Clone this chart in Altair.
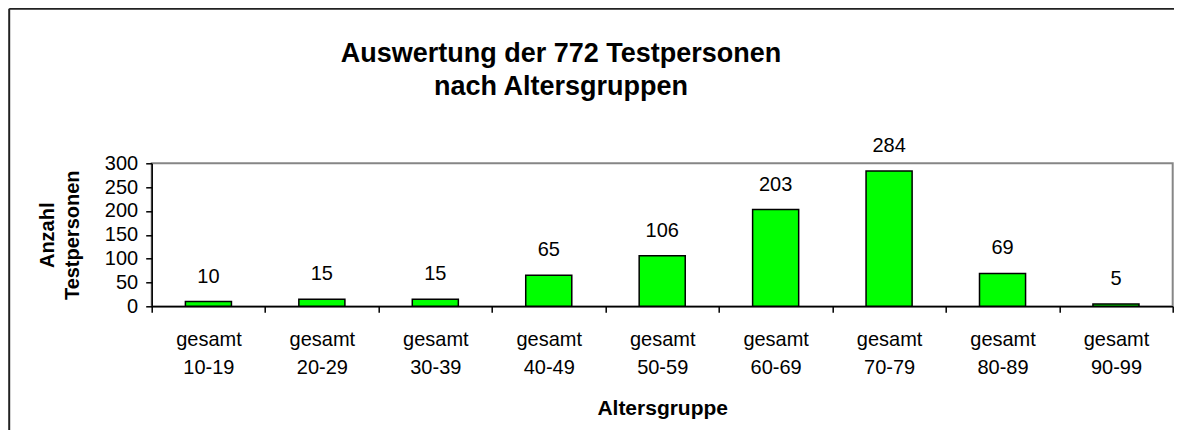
import altair as alt
import pandas as pd

groups = ["gesamt 10-19", "gesamt 20-29", "gesamt 30-39", "gesamt 40-49", "gesamt 50-59",
          "gesamt 60-69", "gesamt 70-79", "gesamt 80-89", "gesamt 90-99"]
counts = [10, 15, 15, 65, 106, 203, 284, 69, 5]
y_ticks = [0, 50, 100, 150, 200, 250, 300]
title_lines = ["Auswertung der 772 Testpersonen", "nach Altersgruppen"]

df = pd.DataFrame({"gruppe": groups, "anzahl": counts})

FONT = "Liberation Sans, Arial, sans-serif"
W, H = 1021, 143
PAD = {"left": 143.7, "top": 155.3, "right": 1.3, "bottom": 124}

x_enc = alt.X("gruppe:N", sort=groups,
              scale=alt.Scale(paddingInner=0, paddingOuter=0),
              axis=alt.Axis(title="Altersgruppe", labelAngle=0,
                            labelExpr="split(datum.label, ' ')",
                            labelLineHeight=28, labelFontSize=20, labelColor="#000",
                            labelBaseline="alphabetic", labelPadding=33,
                            tickBand="extent", tickSize=6, tickColor="#000", tickWidth=1.5,
                            domainColor="#000", domainWidth=1.5,
                            titleFontSize=21, titleFontWeight="bold", titleColor="#000",
                            titleBaseline="alphabetic", titleX=W / 2, titleY=108,
                            titleAlign="center"))
y_enc = alt.Y("anzahl:Q",
              scale=alt.Scale(domain=[0, 300], nice=False),
              axis=alt.Axis(title=["Anzahl", "Testpersonen"], values=y_ticks, grid=False,
                            labelOverlap=False, labelFontSize=20, labelColor="#000",
                            labelPadding=8,
                            tickSize=6, tickColor="#000", tickWidth=1.5,
                            domainColor="#000", domainWidth=1.5,
                            titleFontSize=20, titleFontWeight="bold", titleColor="#000",
                            titleLineHeight=26, titleBaseline="alphabetic",
                            titleX=-98.7, titleY=H / 2, titleAlign="center", titleAngle=-90))

bars = alt.Chart(df).mark_bar(
    width=alt.RelativeBandSize(0.406), color="#00FF00", stroke="#000", strokeWidth=1.5
).encode(x=x_enc, y=y_enc)

labels = alt.Chart(df).mark_text(
    dy=-19, baseline="alphabetic", fontSize=20, font=FONT, color="#000"
).encode(x=x_enc, y=y_enc, text="anzahl:Q")

one = alt.Data(values=[{}])
frame_left = alt.Chart(one).mark_rule(color="#222", strokeWidth=2).encode(
    x=alt.value(-142.5), y=alt.value(-154.5), y2=alt.value(H + PAD["bottom"]))
frame_top = alt.Chart(one).mark_rule(color="#222", strokeWidth=2).encode(
    x=alt.value(-142.5), x2=alt.value(W + PAD["right"]), y=alt.value(-154.5))

title = alt.Chart(one).mark_text(
    text=title_lines, fontSize=27, fontWeight="bold", font=FONT, color="#000",
    lineHeight=33.5, align="center", baseline="alphabetic"
).encode(x=alt.value(409.3), y=alt.value(-101.6))

chart = alt.layer(frame_left, frame_top, title, bars, labels).properties(
    width=W, height=H,
    autosize=alt.AutoSizeParams(type="none"),
    padding=PAD,
).configure(font=FONT).configure_view(stroke="#868686", strokeWidth=2
).configure_axis(labelFont=FONT, titleFont=FONT)

chart.save("out.html", embed_options={"renderer": "svg", "actions": False})
